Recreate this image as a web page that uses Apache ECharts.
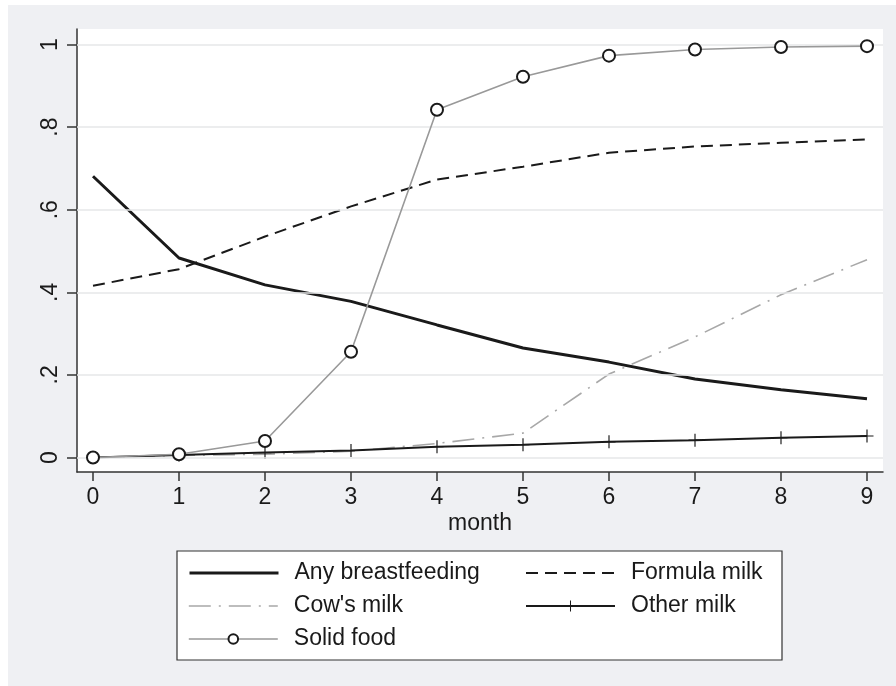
<!DOCTYPE html>
<html><head><meta charset="utf-8">
<script src="https://cdn.jsdelivr.net/npm/echarts@6/dist/echarts.min.js"></script>
<style>
html,body{margin:0;padding:0;background:#fff;}
#bg{position:absolute;left:8px;top:5px;width:888px;height:681px;background:#eff0f3;}
#chart{position:absolute;left:0;top:0;width:896px;height:686px;}
</style></head>
<body><div id="bg"></div><div id="chart"></div>
<script>
const months = [0,1,2,3,4,5,6,7,8,9];
const xTicks = [0,1,2,3,4,5,6,7,8,9];
const yTicks = [0,0.2,0.4,0.6,0.8,1];
const yTickLabels = ['0','.2','.4','.6','.8','1'];
const anyBreastfeeding = [0.681,0.483,0.418,0.378,0.321,0.265,0.231,0.190,0.164,0.142];
const formulaMilk      = [0.416,0.456,0.535,0.608,0.673,0.704,0.738,0.753,0.762,0.770];
const cowsMilk         = [0.000,0.005,0.008,0.015,0.034,0.059,0.202,0.292,0.394,0.479];
const otherMilk        = [0.000,0.006,0.012,0.017,0.026,0.031,0.038,0.042,0.048,0.052];
const solidFood        = [0.000,0.008,0.040,0.256,0.842,0.922,0.973,0.988,0.994,0.996];

const FONT = '"Liberation Sans", Arial, sans-serif';
const pts = arr => months.map((m,i)=>[m, arr[i]]);
const plusPath = 'path://M-0.09,-1 L0.09,-1 L0.09,-0.09 L1,-0.09 L1,0.09 L0.09,0.09 L0.09,1 L-0.09,1 L-0.09,0.09 L-1,0.09 L-1,-0.09 L-0.09,-0.09 Z';

const legendPos = [
  {name:'Any breastfeeding', left:188, top:561, marker:false, w:3, h:12},
  {name:'Formula milk', left:525, top:561, marker:false, w:2, h:12},
  {name:"Cow's milk", left:188, top:594, marker:false, w:1.6, h:12},
  {name:'Other milk', left:525, top:593, marker:true, w:2, h:14},
  {name:'Solid food', left:188, top:627, marker:true, w:1.6, h:12}
];

const chart = echarts.init(document.getElementById('chart'), null, {renderer:'canvas'});
const option = {
  animation:false,
  backgroundColor:'transparent',
  textStyle:{fontFamily:FONT},
  grid:{left:77, right:13, top:29, bottom:214, show:true, backgroundColor:'#fff', borderWidth:0, containLabel:false, outerBoundsMode:'none'},
  graphic:[{type:'rect', z:0, shape:{x:177, y:551, width:605, height:109}, style:{fill:'#fff', stroke:'#333', lineWidth:1.2}}],
  legend: legendPos.map(p=>({
    data:[p.name], left:p.left, top:p.top, padding:0, z:10,
    itemWidth:89, itemHeight:p.h, selectedMode:false,
    itemStyle: p.marker ? {} : {opacity:0},
    lineStyle:{width:p.w},
    textStyle:{fontFamily:FONT, fontSize:23, color:'#1a1a1a', lineHeight:p.h>12?26:24, padding:[0,0,0,11]}
  })),
  xAxis:{
    type:'value', min:-16/86, max:9+16/86,
    name:'month', nameLocation:'middle', nameGap:40, nameMoveOverlap:false,
    nameTextStyle:{fontFamily:FONT, fontSize:23, color:'#1a1a1a'},
    axisLine:{show:true, onZero:false, lineStyle:{color:'#333', width:1.5}},
    axisTick:{show:true, length:9, customValues:xTicks, lineStyle:{color:'#333', width:1.5}},
    axisLabel:{show:true, customValues:xTicks, margin:14, fontFamily:FONT, fontSize:23, color:'#1a1a1a'},
    splitLine:{show:false}
  },
  yAxis:{
    type:'value', min:-14.5/413, max:1+15.5/413,
    axisLine:{show:true, onZero:false, lineStyle:{color:'#333', width:1.5}},
    axisTick:{show:true, length:10, customValues:yTicks, lineStyle:{color:'#333', width:1.5}},
    axisLabel:{show:true, customValues:yTicks, rotate:90, margin:15, fontFamily:FONT, fontSize:23, color:'#1a1a1a',
      formatter:v=>{const i=yTicks.findIndex(t=>Math.abs(t-v)<1e-6); return i>=0?yTickLabels[i]:'';}},
    splitLine:{show:false}
  },
  series:[
    {type:'line', name:'_grid', data:[], z:1, silent:true,
     markLine:{silent:true, symbol:['none','none'], label:{show:false}, animation:false,
       lineStyle:{color:'#e6e7e8', width:1.5, type:'solid'},
       emphasis:{disabled:true},
       data: yTicks.map(v=>({yAxis:v}))}},
    {type:'line', name:'Any breastfeeding', data:pts(anyBreastfeeding), symbol:'none', z:3,
     color:'#1a1a1a', lineStyle:{color:'#1a1a1a', width:3}},
    {type:'line', name:'Formula milk', data:pts(formulaMilk), symbol:'none', z:3,
     color:'#1a1a1a', lineStyle:{color:'#1a1a1a', width:2, type:[12,7]}},
    {type:'line', name:"Cow's milk", data:pts(cowsMilk), symbol:'none', z:3,
     color:'#a8a8a8', lineStyle:{color:'#a8a8a8', width:1.6, type:[22,8,2,8]}},
    {type:'line', name:'Other milk', data:pts(otherMilk), symbol:plusPath, symbolSize:13, showAllSymbol:true, z:4,
     color:'#1a1a1a', itemStyle:{color:'#1a1a1a'}, lineStyle:{color:'#1a1a1a', width:2}},
    {type:'line', name:'Solid food', data:pts(solidFood), symbol:'circle', symbolSize:12, showAllSymbol:true, z:5,
     color:'#999', itemStyle:{color:'#fff', borderColor:'#1a1a1a', borderWidth:2}, lineStyle:{color:'#999', width:1.6}}
  ]
};
chart.setOption(option);
</script>
</body></html>
